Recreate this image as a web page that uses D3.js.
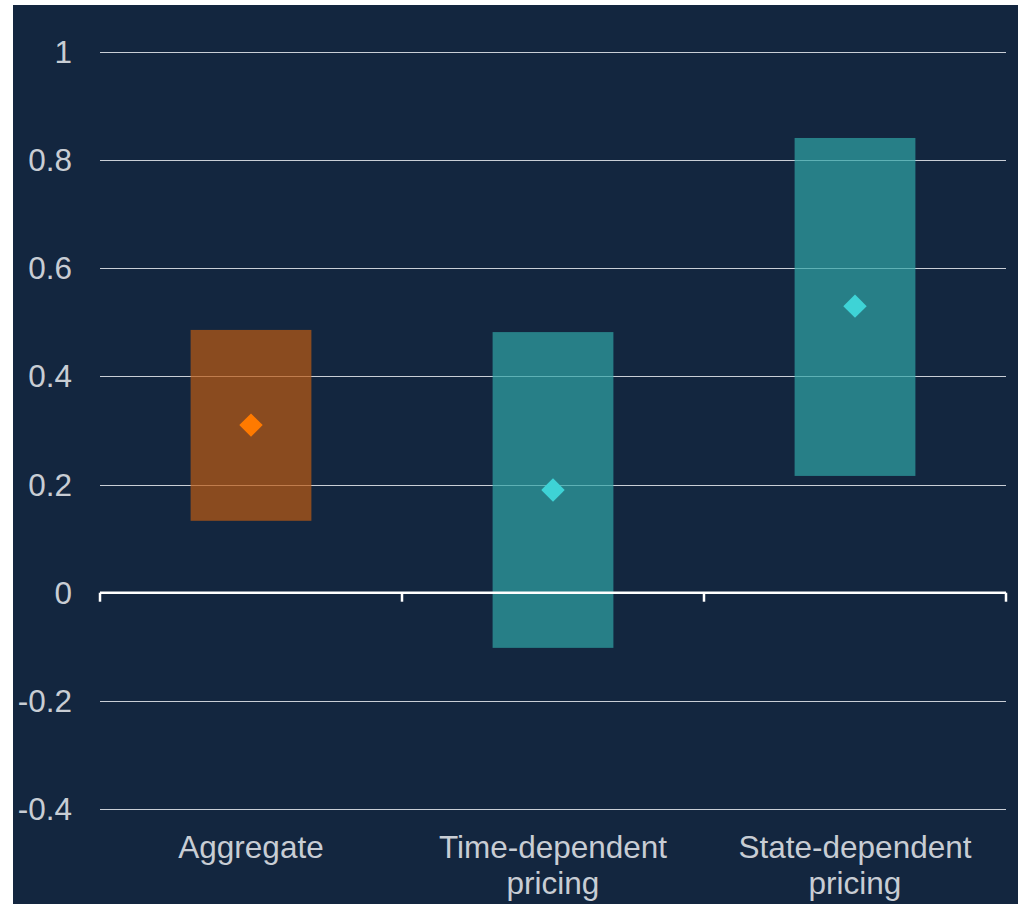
<!DOCTYPE html>
<html>
<head>
<meta charset="utf-8">
<script src="https://cdn.jsdelivr.net/npm/d3@7"></script>
<style>
  html, body { margin: 0; padding: 0; background: #ffffff; }
  svg { display: block; }
  text { font-family: "Liberation Sans", Arial, sans-serif; }
</style>
</head>
<body>
<div id="chart"></div>
<script>
// categories and ranges
const categories = [["Aggregate"], ["Time-dependent", "pricing"], ["State-dependent", "pricing"]];
const lows = [0.133, -0.102, 0.216];
const highs = [0.486, 0.482, 0.841];
const points = [0.31, 0.19, 0.53];
const yTicks = [-0.4, -0.2, 0, 0.2, 0.4, 0.6, 0.8, 1];
const barColors = ["#bd5b13", "#30a5a7", "#30a5a7"];
const pointColors = ["#ff7a00", "#3ed3d6", "#3ed3d6"];

const W = 1018, H = 904;
const bg = { x: 13, y: 5 };
const margin = { top: 52, right: 12, bottom: 95, left: 100 };

const svg = d3.select("#chart").append("svg")
  .attr("width", W).attr("height", H);

svg.append("rect")
  .attr("x", bg.x).attr("y", bg.y)
  .attr("width", W - bg.x).attr("height", H - bg.y)
  .attr("fill", "#13263f");

const x = d3.scaleBand()
  .domain(d3.range(categories.length))
  .range([margin.left, W - margin.right])
  .padding(0);

const y = d3.scaleLinear()
  .domain([-0.4, 1])
  .range([809, margin.top]);

// gridlines
svg.append("g")
  .selectAll("line")
  .data(yTicks.filter(d => d !== 0))
  .join("line")
  .attr("x1", margin.left).attr("x2", W - margin.right)
  .attr("y1", d => Math.round(y(d)) + 0.5).attr("y2", d => Math.round(y(d)) + 0.5)
  .attr("stroke", "#c9ced6").attr("stroke-width", 1);

// y labels (plain hyphen for negatives, as in the original)
svg.append("g")
  .selectAll("text")
  .data(yTicks)
  .join("text")
  .attr("x", 72)
  .attr("y", d => y(d))
  .attr("dy", "0.35em")
  .attr("text-anchor", "end")
  .attr("font-size", 31.5)
  .attr("fill", "#c8cdd4")
  .text(d => String(d));

// range bars
const bw = x.bandwidth() * 0.4;
svg.append("g")
  .selectAll("rect")
  .data(categories.map((c, i) => i))
  .join("rect")
  .attr("x", i => x(i) + (x.bandwidth() - bw) / 2)
  .attr("y", i => y(highs[i]))
  .attr("width", bw)
  .attr("height", i => y(lows[i]) - y(highs[i]))
  .attr("fill", (i) => barColors[i])
  .attr("fill-opacity", 0.7);

// zero axis with ticks
const xAxis = svg.append("g")
  .attr("transform", `translate(0,${y(0)})`);
xAxis.append("line")
  .attr("x1", margin.left).attr("x2", W - margin.right)
  .attr("stroke", "#ffffff").attr("stroke-width", 2.5);
xAxis.selectAll(".tk")
  .data(d3.range(categories.length + 1))
  .join("line")
  .attr("class", "tk")
  .attr("x1", i => i < categories.length ? x(i) : x(i - 1) + x.bandwidth())
  .attr("x2", i => i < categories.length ? x(i) : x(i - 1) + x.bandwidth())
  .attr("y1", 0).attr("y2", 9)
  .attr("stroke", "#ffffff").attr("stroke-width", 2.5);

// diamonds
svg.append("g")
  .selectAll("path")
  .data(points)
  .join("path")
  .attr("d", d3.symbol(d3.symbolDiamond2, 350))
  .attr("transform", (d, i) => `translate(${x(i) + x.bandwidth() / 2},${y(d)})`)
  .attr("fill", (d, i) => pointColors[i]);

// category labels
const lab = svg.append("g")
  .selectAll("text")
  .data(categories)
  .join("text")
  .attr("text-anchor", "middle")
  .attr("font-size", 31.5)
  .attr("fill", "#c8cdd4");
lab.each(function (lines, i) {
  d3.select(this).selectAll("tspan")
    .data(lines)
    .join("tspan")
    .attr("x", x(i) + x.bandwidth() / 2)
    .attr("y", (l, k) => 858 + k * 36)
    .text(l => l);
});
</script>
</body>
</html>
